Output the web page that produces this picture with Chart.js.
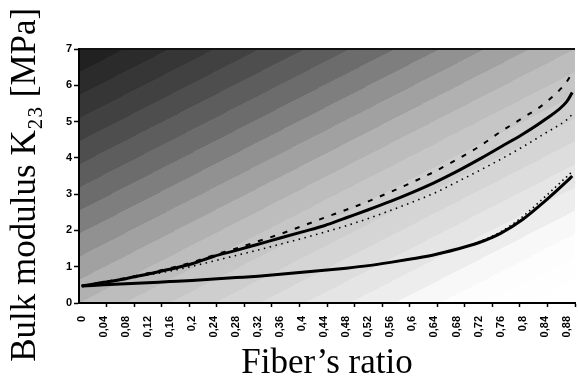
<!DOCTYPE html>
<html>
<head>
<meta charset="utf-8">
<script src="https://cdn.jsdelivr.net/npm/chart.js@4.4.1/dist/chart.umd.min.js"></script>
<style>
  html, body { margin: 0; padding: 0; background: #ffffff; }
  #wrap { width: 578px; height: 378px; position: relative; }
</style>
</head>
<body>
<div id="wrap"><canvas id="c" width="578" height="378"></canvas></div>
<script>
// ---- data ----
const xValues = [0, 0.04, 0.08, 0.12, 0.16, 0.2, 0.24, 0.28, 0.32, 0.36, 0.4, 0.44,
                 0.48, 0.52, 0.56, 0.6, 0.64, 0.68, 0.72, 0.76, 0.8, 0.84, 0.88, 0.89];
const upperDashed = [0.47, 0.58, 0.69, 0.82, 0.96, 1.12, 1.32, 1.50, 1.70, 1.90, 2.12, 2.35,
                     2.57, 2.80, 3.06, 3.33, 3.62, 3.95, 4.30, 4.72, 5.10, 5.50, 6.10, 6.35];
const upperSolid = [0.47, 0.57, 0.67, 0.80, 0.93, 1.08, 1.29, 1.45, 1.62, 1.79, 1.96, 2.13,
                    2.35, 2.57, 2.80, 3.05, 3.32, 3.62, 3.95, 4.30, 4.65, 5.05, 5.55, 5.80];
const upperDotted = [0.47, 0.56, 0.66, 0.77, 0.88, 1.01, 1.16, 1.31, 1.46, 1.62, 1.78, 1.95,
                     2.13, 2.33, 2.55, 2.78, 3.03, 3.33, 3.64, 3.96, 4.30, 4.67, 5.05, 5.20];
const lowerSolid = [0.47, 0.50, 0.53, 0.56, 0.59, 0.62, 0.66, 0.70, 0.74, 0.79, 0.85, 0.90,
                    0.96, 1.03, 1.12, 1.22, 1.33, 1.48, 1.66, 1.92, 2.30, 2.80, 3.35, 3.50];
const lowerDotted = [0.47, 0.50, 0.53, 0.56, 0.59, 0.62, 0.66, 0.70, 0.74, 0.79, 0.85, 0.90,
                     0.96, 1.03, 1.12, 1.22, 1.33, 1.48, 1.68, 1.96, 2.38, 2.92, 3.48, 3.62];
// x tick labels every 0.04, tick marks at category boundaries every 0.05
const xLabelValues = [0, 0.04, 0.08, 0.12, 0.16, 0.2, 0.24, 0.28, 0.32, 0.36, 0.4, 0.44,
                      0.48, 0.52, 0.56, 0.6, 0.64, 0.68, 0.72, 0.76, 0.8, 0.84, 0.88];
const xTickMarkValues = [0.045, 0.095, 0.145, 0.195, 0.245, 0.295, 0.345, 0.395, 0.445,
                         0.495, 0.545, 0.595, 0.645, 0.695, 0.745, 0.795, 0.845, 0.895];
const yTickValues = [0, 1, 2, 3, 4, 5, 6, 7];
const xTitle = "Fiber\u2019s ratio";
const yTitle = "Bulk modulus K\u2082\u2083 [MPa]\u2002";

function pts(ys) { return xValues.map((x, i) => ({ x: x, y: ys[i] })); }
function isLabelValue(v) { return xLabelValues.some(l => Math.abs(l - v) < 1e-6); }
function isMarkValue(v) { return xTickMarkValues.some(l => Math.abs(l - v) < 1e-6); }

// shade ramp for the banded diagonal background
const shadeStops = [[0, 28], [0.1, 50], [0.2, 76], [0.3, 110], [0.4, 150], [0.5, 185],
                    [0.6, 204], [0.7, 220], [0.8, 238], [0.86, 252], [1, 255]];
function shadeAt(v) {
  for (let i = 1; i < shadeStops.length; i++) {
    if (v <= shadeStops[i][0]) {
      const a = shadeStops[i - 1], b = shadeStops[i];
      const t = (v - a[0]) / (b[0] - a[0]);
      return Math.round(a[1] + t * (b[1] - a[1]));
    }
  }
  return 255;
}

const bgPlugin = {
  id: 'bandedBg',
  beforeDraw(chart) {
    const { ctx, chartArea: a } = chart;
    const W = a.right - a.left, H = a.bottom - a.top;
    const t = 2 / (1 / (W * W) + 1 / (H * H));
    const g = ctx.createLinearGradient(a.left, a.top, a.left + t / W, a.top + t / H);
    const N = 22;
    for (let i = 0; i < N; i++) {
      const s = shadeAt((i + 0.5) / N);
      const c = 'rgb(' + s + ',' + s + ',' + s + ')';
      g.addColorStop(i / N, c);
      g.addColorStop((i + 1) / N, c);
    }
    ctx.save();
    ctx.fillStyle = g;
    ctx.fillRect(a.left, a.top, W, H);
    ctx.strokeStyle = '#111';
    ctx.lineWidth = 2;
    ctx.beginPath();
    ctx.moveTo(a.left, a.top);
    ctx.lineTo(a.right, a.top);
    ctx.stroke();
    ctx.restore();
  }
};

const tickFont = { family: "'Liberation Sans', Arial, sans-serif", size: 11, weight: 'bold' };
const titleFont = { family: "'Liberation Serif', 'Times New Roman', serif", size: 35, lineHeight: 1.0 };

new Chart(document.getElementById('c'), {
  type: 'line',
  data: {
    datasets: [
      { label: 'dashed', data: pts(upperDashed), borderColor: '#000', borderWidth: 2,
        borderDash: [5, 8], pointRadius: 0, cubicInterpolationMode: 'monotone', fill: false },
      { label: 'dotted', data: pts(upperDotted), borderColor: '#000', borderWidth: 1.6,
        borderDash: [1.5, 4.5], pointRadius: 0, cubicInterpolationMode: 'monotone', fill: false },
      { label: 'lower dotted', data: pts(lowerDotted), borderColor: '#000', borderWidth: 1.6,
        borderDash: [1.5, 3.5], pointRadius: 0, cubicInterpolationMode: 'monotone', fill: false },
      { label: 'solid', data: pts(upperSolid), borderColor: '#000', borderWidth: 3,
        pointRadius: 0, cubicInterpolationMode: 'monotone', fill: false },
      { label: 'lower solid', data: pts(lowerSolid), borderColor: '#000', borderWidth: 3,
        pointRadius: 0, cubicInterpolationMode: 'monotone', fill: false }
    ]
  },
  options: {
    responsive: false,
    animation: false,
    events: [],
    layout: { padding: { top: 49, right: 3, left: 0, bottom: 0 } },
    plugins: { legend: { display: false }, tooltip: { enabled: false } },
    scales: {
      x: {
        type: 'linear',
        min: -0.005,
        max: 0.895,
        afterBuildTicks(scale) {
          const all = xLabelValues.concat(xTickMarkValues).sort((a, b) => a - b);
          scale.ticks = all.map(v => ({ value: v }));
        },
        afterFit(scale) {
          scale.height = 75;
          scale.paddingLeft = 0;
          scale.paddingRight = 0;
        },
        ticks: {
          autoSkip: false,
          maxRotation: 90,
          minRotation: 90,
          padding: 9,
          color: '#000',
          font: tickFont,
          callback(v) {
            if (!isLabelValue(v)) return '';
            return String(Number(v.toFixed(2))).replace('.', ',');
          }
        },
        grid: {
          drawOnChartArea: false,
          drawTicks: true,
          tickLength: 4,
          tickWidth: 1.5,
          tickColor: (ctx) => (ctx.tick && isMarkValue(ctx.tick.value)) ? '#000' : 'rgba(0,0,0,0)'
        },
        border: { display: true, color: '#000', width: 2 },
        title: { display: true, text: xTitle, color: '#000', font: titleFont, padding: { top: 0, bottom: -3 } }
      },
      y: {
        min: 0,
        max: 7,
        afterBuildTicks(scale) { scale.ticks = yTickValues.map(v => ({ value: v })); },
        afterFit(scale) {
          scale.width = 79;
          scale.paddingTop = 0;
          scale.paddingBottom = 0;
        },
        ticks: { color: '#000', font: tickFont, padding: 2 },
        grid: { drawOnChartArea: false, drawTicks: true, tickLength: 5, tickWidth: 1.5, tickColor: '#000' },
        border: { display: true, color: '#000', width: 2 },
        title: { display: true, text: yTitle, color: '#000', font: titleFont, padding: { top: 8, bottom: 0 } }
      }
    }
  },
  plugins: [bgPlugin]
});
</script>
</body>
</html>
